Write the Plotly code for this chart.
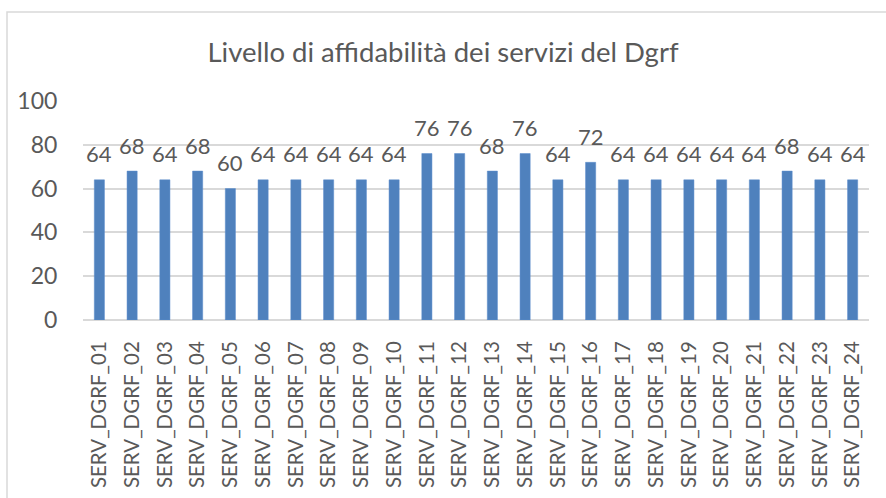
import plotly.graph_objects as go

categories = [f"SERV_DGRF_{i:02d}" for i in range(1, 25)]
values = [64, 68, 64, 68, 60, 64, 64, 64, 64, 64, 76, 76, 68, 76, 64, 72,
          64, 64, 64, 64, 64, 68, 64, 64]
y_ticks = [0, 20, 40, 60, 80, 100]
title_text = "Livello di affidabilità dei servizi del Dgrf"

FONT = "Lato"
GREY = "#595959"
GRID = "#d9d9d9"

W, H = 886, 498
L, R, T, B = 83, 17, 101, 178

fig = go.Figure()
fig.add_trace(go.Bar(
    x=categories, y=values,
    marker=dict(color="#4f81bd", line=dict(color="#5b8ccc", width=0.5)),
    hoverinfo="x+y",
))

annotations = [
    dict(x=c, y=v, xref="x", yref="y", text=str(v), showarrow=False,
         yanchor="middle", yshift=26,
         font=dict(family=FONT, size=22, color=GREY))
    for c, v in zip(categories, values)
]

pw = W - L - R
ph = H - T - B
fig.update_layout(
    width=W, height=H,
    margin=dict(l=L, r=R, t=T, b=B, autoexpand=False),
    paper_bgcolor="white", plot_bgcolor="white",
    bargap=0.69,
    showlegend=False,
    title=dict(text=title_text, x=0.5, xanchor="center", y=1 - 52 / H,
               yanchor="middle", font=dict(family=FONT, size=27.5, color=GREY)),
    annotations=annotations,
    shapes=[dict(type="rect", xref="paper", yref="paper",
                 x0=(7 - L) / pw, x1=(W + 5 - L) / pw,
                 y0=-(B + 5) / ph, y1=(H - B - 12) / ph,
                 line=dict(color=GRID, width=1.5), fillcolor="rgba(0,0,0,0)",
                 layer="below")],
    xaxis=dict(
        tickangle=-90, tickfont=dict(family=FONT, size=20.5, color=GREY),
        ticks="outside", ticklen=12, tickcolor="rgba(0,0,0,0)",
        showgrid=False, showline=False, fixedrange=True,
    ),
    yaxis=dict(
        range=[0, 100], tickvals=y_ticks,
        tickfont=dict(family=FONT, size=23, color=GREY),
        ticks="outside", ticklen=20, tickcolor="rgba(0,0,0,0)",
        showgrid=True, gridcolor=GRID, gridwidth=1.5,
        zeroline=True, zerolinecolor=GRID, zerolinewidth=1.5,
        showline=False, fixedrange=True,
    ),
)

fig.write_html(
    "out.html",
    config={"displayModeBar": False},
    post_script="document.body.style.margin='0';document.body.style.overflow='hidden';",
)
